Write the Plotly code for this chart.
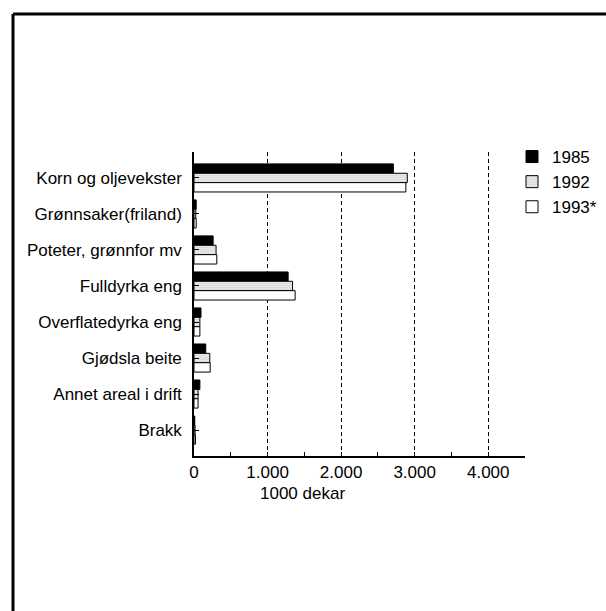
import plotly.graph_objects as go

categories = ["Korn og oljevekster", "Grønnsaker(friland)", "Poteter, grønnfor mv",
              "Fulldyrka eng", "Overflatedyrka eng", "Gjødsla beite",
              "Annet areal i drift", "Brakk"]
v1985 = [2710, 30, 260, 1280, 95, 160, 80, 10]
v1992 = [2900, 25, 300, 1340, 80, 215, 55, 15]
v1993 = [2880, 30, 310, 1375, 80, 220, 55, 20]
xtick_vals = [0, 1000, 2000, 3000, 4000]
xtick_text = ["0", "1.000", "2.000", "3.000", "4.000"]

fig = go.Figure()

# bars: black, dotted, white
fig.add_trace(go.Bar(y=categories, x=v1985, name="1985", orientation="h",
                     marker=dict(color="black", line=dict(color="black", width=1))))
fig.add_trace(go.Bar(y=categories, x=v1992, name="1992", orientation="h",
                     marker=dict(color="white", line=dict(color="black", width=1),
                                 pattern=dict(shape=".", fgcolor="black", bgcolor="white",
                                              size=2, solidity=0.3))))
fig.add_trace(go.Bar(y=categories, x=v1993, name="1993*", orientation="h",
                     marker=dict(color="white", line=dict(color="black", width=1))))

fig.update_layout(
    width=606, height=611,
    margin=dict(l=194, r=81, t=152, b=155, autoexpand=False),
    plot_bgcolor="white", paper_bgcolor="white",
    font=dict(family="Liberation Sans, Arial, sans-serif", size=17, color="black"),
    barmode="group", bargap=0.22, bargroupgap=0,
    showlegend=True,
    legend=dict(xref="container", yref="container", x=512 / 606, y=1 - 139 / 611,
                xanchor="left", yanchor="top", tracegroupgap=0,
                font=dict(size=17), bgcolor="rgba(0,0,0,0)"),
)

fig.update_xaxes(
    range=[0, 4500], tickvals=xtick_vals, ticktext=xtick_text,
    tickfont=dict(size=17),
    showgrid=True, gridcolor="black", griddash="4px,3px", gridwidth=1,
    ticks="inside", ticklen=4, tickcolor="black",
    minor=dict(dtick=500, ticks="inside", ticklen=4, tickcolor="black", showgrid=False),
    showline=True, linecolor="black", linewidth=1.5, zeroline=False,
)
fig.update_yaxes(
    range=[7.72, -0.72], showgrid=False, zeroline=False,
    showline=True, linecolor="black", linewidth=1.5,
    ticks="inside", ticklen=5, tickcolor="black",
    tickfont=dict(size=17), ticklabelstandoff=7,
)

# x axis title, sits left of centre in the original
fig.add_annotation(text="1000 dekar", xref="paper", yref="paper",
                   x=(302 - 194) / 331, y=(456 - 493) / 304, showarrow=False,
                   xanchor="center", yanchor="middle", font=dict(size=17))

# frame lines around the figure
fx = (13 - 194) / 331
fy = (456 - 14) / 304
fig.add_shape(type="line", xref="paper", yref="paper", x0=fx, y0=fy, x1=1.4, y1=fy,
              line=dict(color="black", width=3))
fig.add_shape(type="line", xref="paper", yref="paper", x0=fx, y0=fy, x1=fx, y1=-0.6,
              line=dict(color="black", width=3))

fig.write_html("out.html", config={"displayModeBar": False},
               post_script="document.body.style.margin='0px';"
                           "document.body.style.overflow='hidden';"
                           "document.documentElement.style.overflow='hidden';")
